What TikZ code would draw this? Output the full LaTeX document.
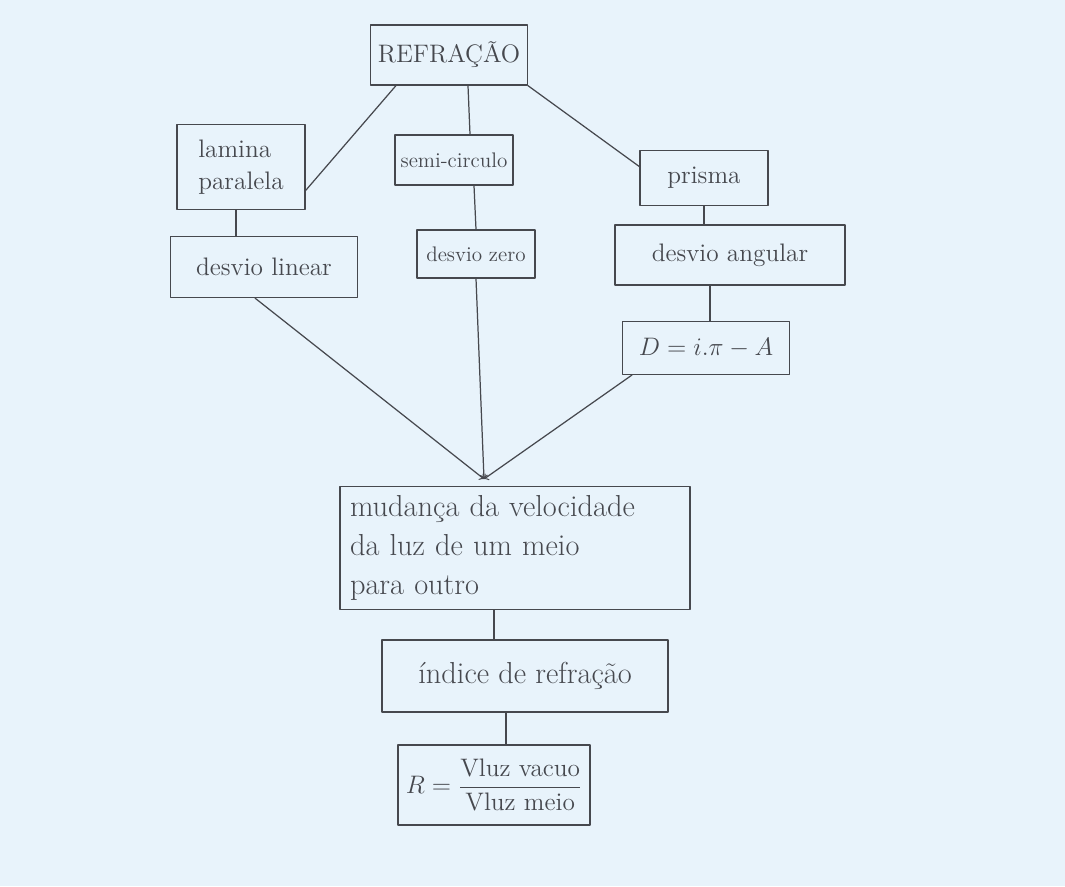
\documentclass[tikz,border=0pt]{standalone}
\usepackage{amsmath}
\usetikzlibrary{calc}
\definecolor{papel}{RGB}{232,243,251}
\definecolor{lapis}{RGB}{70,72,78}
\tikzset{
  caixa/.style={draw=lapis,line width=0.7pt,text=lapis,font=\Large,inner sep=4pt},
  liga/.style={draw=lapis,line width=0.7pt},
}
\begin{document}
\begin{tikzpicture}[line cap=round,line join=round,>=to,x=1.0cm,y=1.0cm]
	\fill[papel] (0,0) rectangle (21.3,17.72);
	\useasboundingbox (0,0) rectangle (21.3,17.72);
	% caixas
	\node[caixa,minimum width=2.64cm,minimum height=1.2cm] (refr) at (8.98,16.62) {REFRAÇÃO};
	\node[caixa,minimum width=2.56cm,minimum height=1.7cm,align=left] (lam) at (4.82,14.38) {lamina\\paralela};
	\node[caixa,font=\large,inner xsep=2pt,minimum width=2.36cm,minimum height=1.0cm] (semi) at (9.08,14.52) {semi-circulo};
	\node[caixa,minimum width=2.56cm,minimum height=1.1cm] (pris) at (14.08,14.16) {prisma};
	\node[caixa,minimum width=3.74cm,minimum height=1.22cm] (dlin) at (5.28,12.38) {desvio linear};
	\node[caixa,font=\large,inner xsep=2pt,minimum width=2.36cm,minimum height=0.96cm] (dzero) at (9.52,12.64) {desvio zero};
	\node[caixa,minimum width=4.6cm,minimum height=1.2cm] (dang) at (14.6,12.62) {desvio angular};
	\node[caixa,minimum width=3.34cm,minimum height=1.06cm] (dform) at (14.12,10.76) {$D = i.\pi - A$};
	\node[caixa,font=\LARGE,minimum width=7.0cm,minimum height=2.46cm,text width=6.6cm,align=left] (mud) at (10.3,6.76)
		{mudança da velocidade\\da luz de um meio\\para outro};
	\node[caixa,font=\LARGE,minimum width=5.72cm,minimum height=1.44cm] (ind) at (10.5,4.2) {índice de refração};
	\node[caixa,minimum width=3.84cm,minimum height=1.6cm] (rform) at (9.88,2.02)
		{$R = \dfrac{\text{Vluz vacuo}}{\text{Vluz meio}}$};
	\coordinate (conv) at (9.68,8.14);
	% ligacoes
	\draw[liga] (refr.-150) -- (lam.-20);
	\draw[liga] ([xshift=0.38cm]refr.south) -- ([xshift=0.32cm]semi.north);
	\draw[liga] (refr.south east) -- (pris.170);
	\draw[liga] ([xshift=-0.1cm]lam.south) -- ([xshift=-0.1cm]lam.south |- dlin.north);
	\draw[liga] ([xshift=0.4cm]semi.south) -- (dzero.north);
	\draw[liga] (pris.south) -- (pris.south |- dang.north);
	\draw[liga] ([xshift=-0.4cm]dang.south) -- ([xshift=-0.4cm]dang.south |- dform.north);
	\draw[liga,->] ([xshift=-0.18cm]dlin.south) -- (conv);
	\draw[liga,->] (dzero.south) -- (conv);
	\draw[liga,->] ([xshift=0.2cm]dform.south west) -- (conv);
	\draw[liga] ([xshift=-0.42cm]mud.south) -- ([xshift=-0.42cm]mud.south |- ind.north);
	\draw[liga] ([xshift=-0.38cm]ind.south) -- ([xshift=-0.38cm]ind.south |- rform.north);
\end{tikzpicture}
\end{document}
